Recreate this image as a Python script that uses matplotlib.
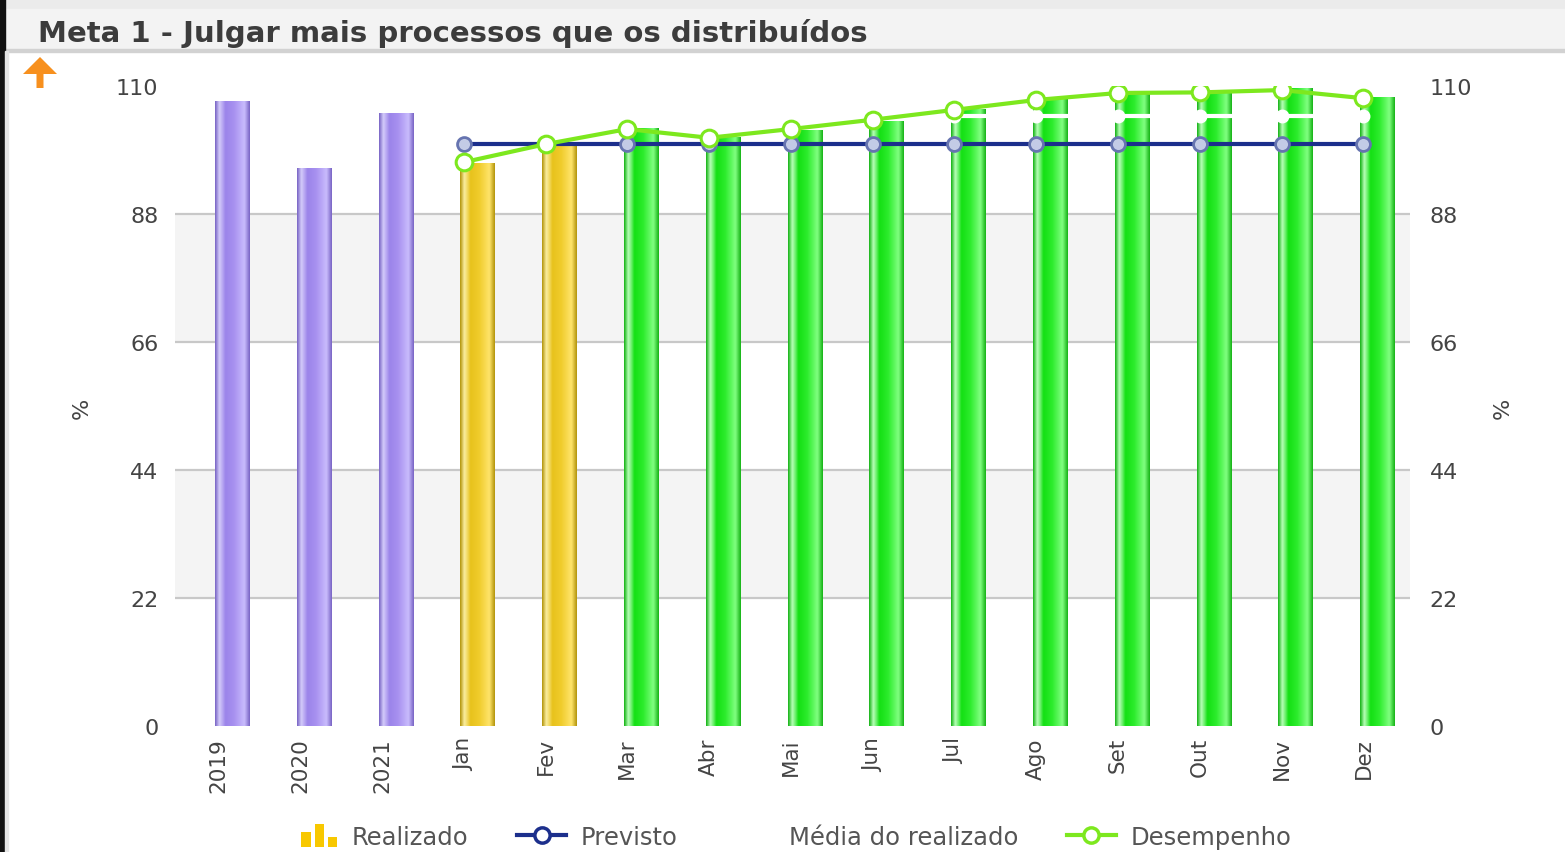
import numpy as np
import matplotlib
matplotlib.use('Agg')
import matplotlib.pyplot as plt
from matplotlib.colors import LinearSegmentedColormap
from matplotlib.lines import Line2D
from matplotlib.patches import Rectangle, FancyArrow
from matplotlib.legend_handler import HandlerBase

###
# DADOS
###
categorias = ['2019', '2020', '2021', 'Jan', 'Fev', 'Mar', 'Abr', 'Mai',
              'Jun', 'Jul', 'Ago', 'Set', 'Out', 'Nov', 'Dez']
realizado = [107.4, 95.9, 105.4, 96.8, 99.9, 102.8, 101.2, 102.4,
             104.0, 106.0, 107.9, 108.6, 108.9, 109.6, 108.1]
tipo_barra = ['ano', 'ano', 'ano', 'abaixo', 'abaixo', 'acima', 'acima', 'acima',
              'acima', 'acima', 'acima', 'acima', 'acima', 'acima', 'acima']
previsto = [100.0] * 12
media_realizado = [104.8] * 12
desempenho = [96.9, 100.0, 102.6, 101.1, 102.6, 104.2, 105.9, 107.6,
              108.8, 108.9, 109.3, 107.9]
ticks_y = [0, 22, 44, 66, 88, 110]
legenda = ['Realizado', 'Previsto', 'Média do realizado', 'Desempenho']

titulo = 'Meta 1 - Julgar mais processos que os distribuídos'

# gradiente das barras: borda escura, faixa clara, cor base, cor clara, borda
cores = {
    'ano':    ['#7a66c6', '#d4cbfa', '#9b84ea', '#a891f0', '#c9bcfd', '#7a66c6'],
    'abaixo': ['#b4960e', '#fbeea0', '#e8c21c', '#f0cc2c', '#ffe46a', '#b4960e'],
    'acima':  ['#18b418', '#b8ffb8', '#14e014', '#2cec2c', '#80ff80', '#18b418'],
}
posicoes_grad = [0.0, 0.12, 0.3, 0.55, 0.85, 1.0]
cor_txt = '#444444'

W, H = 1565, 853
fig = plt.figure(figsize=(W / 100, H / 100), dpi=100)
fig.patch.set_facecolor('white')

# moldura / barra de título
fig.patches.append(Rectangle((0, 1 - 10 / H), 1, 10 / H, transform=fig.transFigure,
                             color='#ebebeb', zorder=0))
fig.patches.append(Rectangle((0, 1 - 51 / H), 1, 41 / H, transform=fig.transFigure,
                             color='#f3f3f3', zorder=0))
fig.patches.append(Rectangle((0, 1 - 53 / H), 1, 3 / H, transform=fig.transFigure,
                             color='#d2d2d2', zorder=0))
fig.patches.append(Rectangle((0, 0), 5 / W, 1, transform=fig.transFigure,
                             color='#111111', zorder=1))
fig.patches.append(Rectangle((5 / W, 0), 3 / W, 1 - 52 / H, transform=fig.transFigure,
                             color='#e4e4e4', zorder=1))
fig.text(38 / W, 1 - 33 / H, titulo, fontsize=21, fontweight='bold',
         color='#3c3c3c', va='center', ha='left')
fig.patches.append(FancyArrow(40 / W, 1 - 89 / H, 0, 31 / H, width=7 / W,
                              head_width=34 / W, head_length=17 / H,
                              length_includes_head=True, color='#f7901e', lw=0,
                              transform=fig.transFigure))

ax = fig.add_axes([175 / W, 1 - 727 / H, (1410 - 175) / W, (727 - 87) / H])
x = np.arange(len(categorias))
x_meses = np.arange(3, len(categorias))

# faixas e grade (sem linhas em 0 e 110)
for y0, y1 in [(22, 44), (66, 88)]:
    ax.axhspan(y0, y1, color='#f4f4f4', zorder=0, lw=0)
for t in ticks_y[1:-1]:
    ax.axhline(t, color='#c8c8c8', lw=1.6, zorder=0.5)

# barras com gradiente
larg = 0.42
barras = ax.bar(x - 0.04, realizado, width=larg, align='edge',
                color='none', edgecolor='none', zorder=2)
for b, t in zip(barras, tipo_barra):
    cmap = LinearSegmentedColormap.from_list(t, list(zip(posicoes_grad, cores[t])))
    bx, by = b.get_x(), b.get_y()
    img = ax.imshow(np.linspace(0, 1, 64).reshape(1, -1), cmap=cmap, aspect='auto',
                    extent=[bx, bx + b.get_width(), by, by + b.get_height()],
                    zorder=2, interpolation='bilinear')
    img.set_clip_path(b)

# linhas
ax.plot(x_meses, media_realizado, color='white', lw=3, marker='o', ms=9,
        mfc='white', mec='white', zorder=3)
ax.plot(x_meses, previsto, color='#1c2f8c', lw=3, marker='o', ms=10,
        mfc='#c3cbe6', mec='#6674b0', mew=2, zorder=4)
ax.plot(x_meses, desempenho, color='#7de81e', lw=3, marker='o', ms=12,
        mfc='white', mec='#7de81e', mew=2.2, zorder=5)

ax.set_xlim(-0.53, 14.57)
ax.set_ylim(0, 110)
ax.set_xticks(x)
ax.set_xticklabels(categorias, rotation=90, fontsize=15.5, color=cor_txt)
ax.set_yticks(ticks_y)
ax.tick_params(axis='y', length=0, pad=12, labelsize=16, labelcolor=cor_txt)
ax.tick_params(axis='x', length=0, pad=8)
for s in ax.spines.values():
    s.set_visible(False)

ax2 = ax.twinx()
ax2.set_ylim(0, 110)
ax2.set_yticks(ticks_y)
ax2.tick_params(axis='y', length=0, pad=14, labelsize=16, labelcolor=cor_txt)
for s in ax2.spines.values():
    s.set_visible(False)

fig.text(82 / W, 1 - 408 / H, '%', rotation=90, fontsize=16, color=cor_txt,
         ha='center', va='center')
fig.text(1503 / W, 1 - 408 / H, '%', rotation=90, fontsize=16, color=cor_txt,
         ha='center', va='center')


# ícone de barras para a legenda
class IconeBarras(HandlerBase):
    def create_artists(self, legend, orig_handle, xd, yd, width, height, fontsize, trans):
        arts = []
        alturas = [0.85, 1.3, 0.55]
        w = width / 5.0
        x0 = xd + width - 3 * w - 2 * w * 0.35
        for i, h in enumerate(alturas):
            arts.append(Rectangle((x0 + i * w * 1.35, -yd - height * 0.15), w, height * h,
                                  color='#f8c800', lw=0, transform=trans))
        return arts


h_real = Rectangle((0, 0), 1, 1, color='#f8c800')
h_prev = Line2D([], [], color='#1c2f8c', lw=3, marker='o', ms=11, mfc='white',
                mec='#1c2f8c', mew=2.5)
h_media = Line2D([], [], color='white', lw=3)
h_desemp = Line2D([], [], color='#7de81e', lw=3, marker='o', ms=11, mfc='white',
                  mec='#7de81e', mew=2.5)
leg = fig.legend([h_real, h_prev, h_media, h_desemp], legenda,
                 handler_map={Rectangle: IconeBarras()},
                 loc='center', bbox_to_anchor=(790 / W, 1 - 838 / H), ncol=4,
                 frameon=False, fontsize=17.5, handlelength=2.0, handletextpad=0.6,
                 columnspacing=2.0)
for t in leg.get_texts():
    t.set_color('#555555')

fig.savefig('out.png', dpi=100)
